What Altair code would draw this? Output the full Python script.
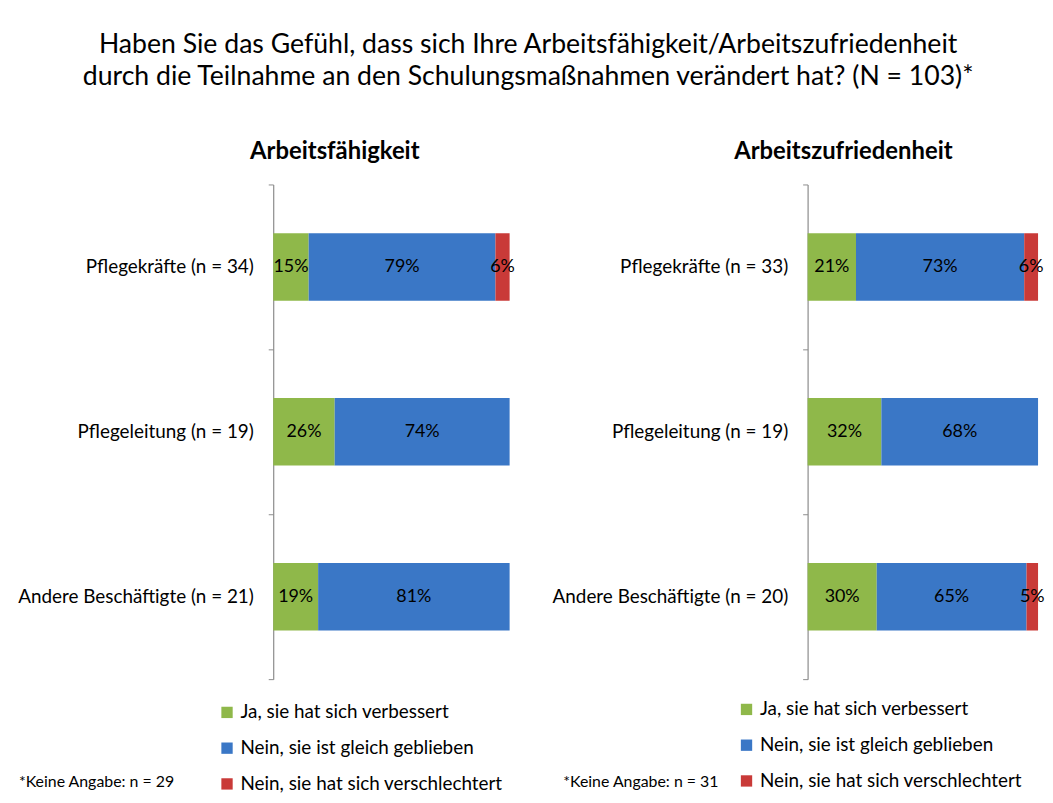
import altair as alt
import pandas as pd

title_lines = [
    "Haben Sie das Gefühl, dass sich Ihre Arbeitsfähigkeit/Arbeitszufriedenheit",
    "durch die Teilnahme an den Schulungsmaßnahmen verändert hat? (N = 103)*",
]
panel_titles = ["Arbeitsfähigkeit", "Arbeitszufriedenheit"]
footnotes = ["*Keine Angabe: n = 29", "*Keine Angabe: n = 31"]

categories_left = ["Pflegekräfte (n = 34)", "Pflegeleitung (n = 19)", "Andere Beschäftigte (n = 21)"]
categories_right = ["Pflegekräfte (n = 33)", "Pflegeleitung (n = 19)", "Andere Beschäftigte (n = 20)"]
series = ["Ja, sie hat sich verbessert", "Nein, sie ist gleich geblieben", "Nein, sie hat sich verschlechtert"]

left_ja = [15, 26, 19]
left_gleich = [79, 74, 81]
left_schlechter = [6, 0, 0]

right_ja = [21, 32, 30]
right_gleich = [73, 68, 65]
right_schlechter = [6, 0, 5]

colors = ["#8fb84a", "#3a77c6", "#c93a38"]

FONT = "Lato"


def make_df(cats, ja, gleich, schlechter):
    rows = []
    for i, c in enumerate(cats):
        for k, (s, vals) in enumerate(zip(series, [ja, gleich, schlechter])):
            rows.append({"Gruppe": c, "Antwort": s, "Anteil": vals[i], "Reihenfolge": k,
                         "Label": f"{vals[i]}%"})
    return pd.DataFrame(rows)


def panel(df, cats, title, dx, footnote, note_x, legend_x, legend_y, width):
    y = alt.Y(
        "Gruppe:N",
        sort=cats,
        scale=alt.Scale(paddingInner=0, paddingOuter=0),
        axis=alt.Axis(
            title=None, bandPosition=1, tickExtra=True, tickSize=5,
            domainColor="#8c8c8c", tickColor="#8c8c8c", labelFontSize=19,
            labelColor="black", labelFont=FONT, labelPadding=15, domainWidth=1.2,
            labelLimit=400,
        ),
    )
    bars = alt.Chart(df).mark_bar(size=68).encode(
        x=alt.X("Anteil:Q", stack="zero", scale=alt.Scale(domain=[0, 100]), axis=None),
        y=y,
        color=alt.Color(
            "Antwort:N",
            scale=alt.Scale(domain=series, range=colors),
            legend=alt.Legend(
                title=None, orient="none", legendX=legend_x, legendY=legend_y,
                direction="vertical", symbolType="square", symbolSize=130,
                symbolStrokeWidth=0, labelFontSize=19, labelFont=FONT,
                labelColor="black", rowPadding=16, labelOffset=4, labelLimit=400,
            ),
        ),
        order=alt.Order("Reihenfolge:Q"),
    )
    text = (
        alt.Chart(df)
        .transform_filter("datum.Anteil > 0")
        .transform_stack(stack="Anteil", groupby=["Gruppe"], as_=["x0", "x1"],
                         sort=[alt.SortField("Reihenfolge")])
        .transform_calculate(mitte="(datum.x0 + datum.x1) / 2")
        .mark_text(fontSize=18, font=FONT, color="black")
        .encode(x=alt.X("mitte:Q", scale=alt.Scale(domain=[0, 100]), axis=None),
                y=alt.Y("Gruppe:N", sort=cats), text="Label:N")
    )
    note = (
        alt.Chart(pd.DataFrame({"t": [footnote]}))
        .mark_text(align="left", fontSize=16, font=FONT, color="black")
        .encode(text="t:N", x=alt.value(note_x), y=alt.value(602))
    )
    return alt.layer(bars, text, note).properties(
        width=width, height=498,
        title=alt.TitleParams(panel_titles[title],
                              fontSize=24, font=FONT, fontWeight="bold",
                              anchor="middle", frame="group", dx=dx, offset=12),
    )


df_left = make_df(categories_left, left_ja, left_gleich, left_schlechter)
df_right = make_df(categories_right, right_ja, right_gleich, right_schlechter)

left = panel(df_left, categories_left, 0, -57, footnotes[0], -256, -56, 522, 238)
right = panel(df_right, categories_right, 1, -80, footnotes[1], -246, -71, 519, 232)

chart = (
    alt.hconcat(left, right, spacing=36)
    .resolve_scale(color="independent", y="independent")
    .properties(
        title=alt.TitleParams(title_lines, fontSize=26.8, font=FONT, fontWeight="normal",
                              anchor="middle", lineHeight=33, offset=49, dx=-3,
                              color="black"),
        padding={"top": 21, "left": 9, "right": 0, "bottom": 0},
    )
    .configure_view(stroke=None)
)

chart.save("out.html", embed_options={"renderer": "svg", "actions": False})
